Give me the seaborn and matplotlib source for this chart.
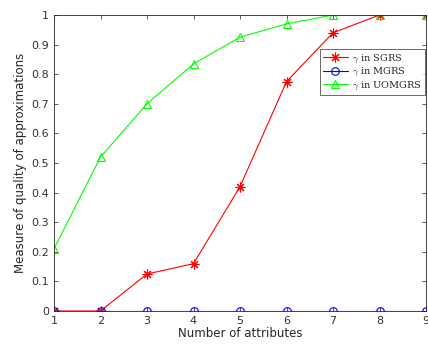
import matplotlib
matplotlib.use("Agg")
import matplotlib.pyplot as plt
import seaborn as sns
import pandas as pd

attributes = [1, 2, 3, 4, 5, 6, 7, 8, 9]
sgrs = [0, 0, 0.125, 0.16, 0.42, 0.775, 0.94, 1.0, 1.0]
mgrs = [0, 0, 0, 0, 0, 0, 0, 0, 0]
uomgrs = [0.21, 0.52, 0.70, 0.835, 0.925, 0.97, 1.0, 1.0, 1.0]
series_names = [r"$\gamma$ in SGRS", r"$\gamma$ in MGRS", r"$\gamma$ in UOMGRS"]
y_ticks = [0, 0.1, 0.2, 0.3, 0.4, 0.5, 0.6, 0.7, 0.8, 0.9, 1]

sns.set_theme(style="ticks")
plt.rcParams['font.family'] = ['DejaVu Sans']
plt.rcParams['mathtext.fontset'] = 'cm'

df = pd.DataFrame({
    "x": attributes * 3,
    "y": sgrs + mgrs + uomgrs,
    "series": [series_names[0]] * 9 + [series_names[1]] * 9 + [series_names[2]] * 9,
})

fig = plt.figure(figsize=(4.28, 3.46), dpi=100)
ax = fig.add_axes([54/428, 35/346, 372/428, 296/346])

colors = ["#ff0000", "#0000ff", "#00ff00"]
markers = [(8, 2, 0), "o", "^"]
sizes = [7, 5.5, 6]
for name, c, m, ms in zip(series_names, colors, markers, sizes):
    sub = df[df.series == name]
    sns.lineplot(data=sub, x="x", y="y", ax=ax, color=c, linewidth=0.8,
                 marker=m, markersize=ms,
                 markerfacecolor="none",
                 markeredgecolor=c, markeredgewidth=0.8, label=name)

ax.set_xlim(1, 9)
ax.set_ylim(0, 1)
ax.set_xticks(attributes)
ax.set_yticks(y_ticks)
ax.set_yticklabels(["0", "0.1", "0.2", "0.3", "0.4", "0.5", "0.6", "0.7", "0.8", "0.9", "1"])
ax.tick_params(direction="in", top=True, right=True, labelsize=8, colors="#404040",
               length=3, width=0.6, labelcolor="#333333")
for s in ax.spines.values():
    s.set_linewidth(0.6)
    s.set_color("#262626")
ax.set_xlabel("Number of attributes", fontsize=8.5, color="#262626", labelpad=1)
ax.set_ylabel("Measure of quality of approximations", fontsize=8.5, color="#262626", labelpad=3)

leg = ax.legend(loc="upper right", bbox_to_anchor=(1.0, 0.89), borderaxespad=0.15,
                prop={"family": "DejaVu Serif", "size": 7}, frameon=True,
                fancybox=False, edgecolor="#262626", handlelength=2.6,
                borderpad=0.3, labelspacing=0.1, handletextpad=0.4)
leg.get_frame().set_linewidth(0.6)

fig.savefig("out.png", dpi=100)
